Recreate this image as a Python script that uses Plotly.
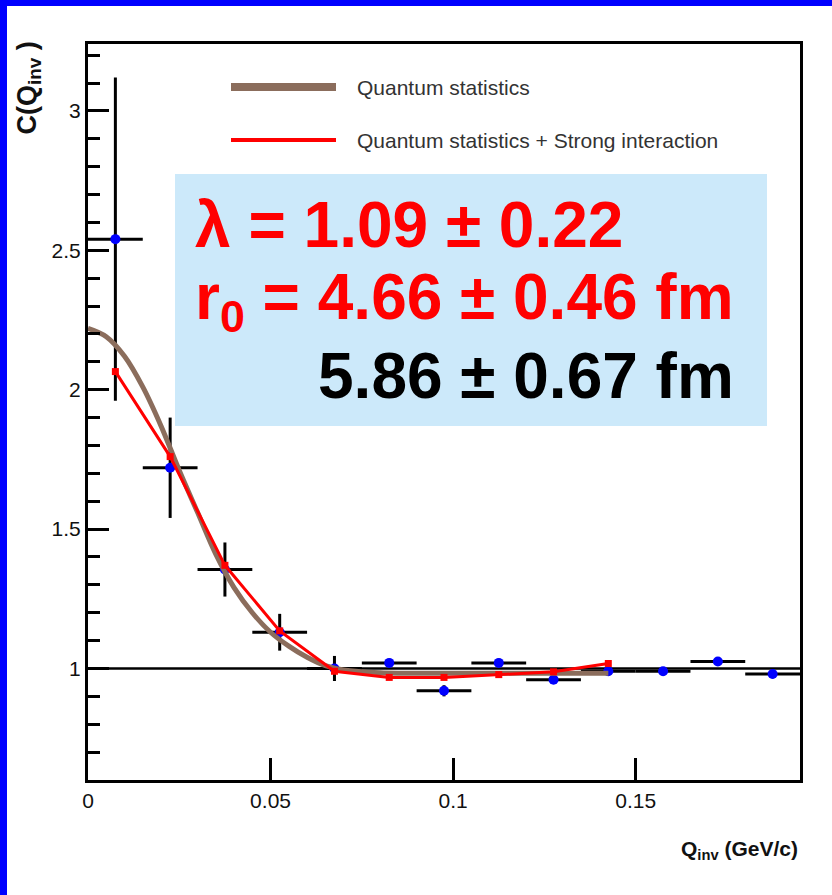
import plotly.graph_objects as go

# ---- data ----
q_bins = [0.0075, 0.0225, 0.0375, 0.0525, 0.0675, 0.0825, 0.0975,
          0.1125, 0.1275, 0.1425, 0.1575, 0.1725, 0.1875]
c_vals = [2.54, 1.72, 1.355, 1.13, 1.0, 1.02, 0.92, 1.02, 0.96, 0.99, 0.99, 1.025, 0.98]
c_errs = [0.58, 0.18, 0.097, 0.066, 0.045, 0.015, 0.02, 0.015, 0.015, 0.015, 0.015, 0.015, 0.015]
q_half = [0.0075] * 13

qs_x = [0.0, 0.005, 0.01, 0.015, 0.02, 0.025, 0.03, 0.035, 0.04, 0.045, 0.05,
        0.055, 0.06, 0.065, 0.07, 0.08, 0.10, 0.12, 0.1425]
qs_y = [2.22, 2.19, 2.12, 2.01, 1.87, 1.71, 1.56, 1.41, 1.29, 1.20, 1.13,
        1.08, 1.04, 1.01, 0.995, 0.985, 0.983, 0.983, 0.983]

si_x = [0.0075, 0.0225, 0.0375, 0.0525, 0.0675, 0.0825, 0.0975, 0.1125, 0.1275, 0.1425]
si_y = [2.065, 1.76, 1.37, 1.135, 0.99, 0.968, 0.968, 0.978, 0.988, 1.018]

ref_x = [0.0, 0.195]
ref_y = [1.0, 1.0]

legend_labels = ["Quantum statistics", "Quantum statistics + Strong interaction"]
x_ticks = [0, 0.05, 0.1, 0.15]
y_ticks = [1, 1.5, 2, 2.5, 3]

SANS = "Liberation Sans, Arial, sans-serif"
BROWN = "#8b6d5c"

W, H = 832, 895
L, R, T, B = 88, 800, 44, 780


def px(x):
    return (x - L) / (R - L)


def py(y):
    return (B - y) / (B - T)


fig = go.Figure()

fig.add_trace(go.Scatter(x=ref_x, y=ref_y, mode="lines",
                         line=dict(color="black", width=2.5), showlegend=False,
                         hoverinfo="skip"))

fig.add_trace(go.Scatter(
    x=q_bins, y=c_vals, mode="markers",
    marker=dict(color="#0000ff", size=10),
    error_x=dict(type="data", array=q_half, color="black", thickness=3, width=0),
    error_y=dict(type="data", array=c_errs, color="black", thickness=3, width=0),
    showlegend=False))

fig.add_trace(go.Scatter(x=qs_x, y=qs_y, mode="lines", line_shape="spline",
                         line=dict(color=BROWN, width=5), name=legend_labels[0],
                         showlegend=False))

fig.add_trace(go.Scatter(x=si_x, y=si_y, mode="lines+markers",
                         line=dict(color="#ff0000", width=3),
                         marker=dict(symbol="square", size=7, color="#ff0000"),
                         name=legend_labels[1], showlegend=False))

shapes = [
    # blue frame (top and left)
    dict(type="rect", xref="paper", yref="paper", x0=px(0), x1=px(7), y0=py(H), y1=py(0),
         fillcolor="#0000ff", line=dict(width=0)),
    dict(type="rect", xref="paper", yref="paper", x0=px(0), x1=px(W), y0=py(6), y1=py(0),
         fillcolor="#0000ff", line=dict(width=0)),
    # parameter box
    dict(type="rect", xref="paper", yref="paper", x0=px(175), x1=px(767), y0=py(426), y1=py(174),
         fillcolor="#cce9fa", line=dict(width=0), layer="above"),
    # legend samples
    dict(type="line", xref="paper", yref="paper", x0=px(231), x1=px(336), y0=py(87), y1=py(87),
         line=dict(color=BROWN, width=8)),
    dict(type="line", xref="paper", yref="paper", x0=px(231), x1=px(336), y0=py(140), y1=py(140),
         line=dict(color="#ff0000", width=4)),
]

annotations = [
    dict(text=legend_labels[0], x=px(355), y=py(87), xref="paper", yref="paper",
         xanchor="left", yanchor="middle", showarrow=False,
         font=dict(family=SANS, size=21, color="#333333")),
    dict(text=legend_labels[1], x=px(355), y=py(140), xref="paper", yref="paper",
         xanchor="left", yanchor="middle", showarrow=False,
         font=dict(family=SANS, size=21, color="#333333")),
    dict(text="<b>λ = 1.09 ± 0.22</b>", x=px(193), y=py(225), xref="paper", yref="paper",
         xanchor="left", yanchor="middle", showarrow=False,
         font=dict(family=SANS, size=64, color="#ff0000")),
    dict(text="<b>r<sub>0</sub> = 4.66 ± 0.46 fm</b>", x=px(193), y=py(301), xref="paper", yref="paper",
         xanchor="left", yanchor="middle", showarrow=False,
         font=dict(family=SANS, size=64, color="#ff0000")),
    dict(text="<b>5.86 ± 0.67 fm</b>", x=px(316), y=py(376), xref="paper", yref="paper",
         xanchor="left", yanchor="middle", showarrow=False,
         font=dict(family=SANS, size=64, color="#000000")),
    dict(text="<b>C(Q<sub>inv</sub> )</b>", x=px(28), y=py(40), xref="paper", yref="paper",
         xanchor="center", yanchor="top", textangle=-90, showarrow=False,
         font=dict(family=SANS, size=27, color="#111111")),
    dict(text="<b>Q<sub>inv</sub> (GeV/c)</b>", x=px(800), y=py(850), xref="paper", yref="paper",
         xanchor="right", yanchor="middle", showarrow=False,
         font=dict(family=SANS, size=21, color="#111111")),
]

fig.update_layout(
    width=W, height=H,
    margin=dict(l=L, r=W - R, t=T, b=H - B, pad=0),
    paper_bgcolor="white", plot_bgcolor="white",
    shapes=shapes, annotations=annotations, showlegend=False,
    xaxis=dict(range=[0, 0.195], tickvals=x_ticks, ticktext=["0", "0.05", "0.1", "0.15"],
               ticks="inside", ticklen=22, tickwidth=2.5, tickcolor="black",
               showline=True, linewidth=3, linecolor="black", mirror=True,
               showgrid=False, zeroline=False,
               tickfont=dict(family=SANS, size=21, color="#111111")),
    yaxis=dict(range=[0.6, 3.24], tickvals=y_ticks, ticktext=["1", "1.5", "2", "2.5", "3"],
               ticks="inside", ticklen=21, tickwidth=3, tickcolor="black",
               minor=dict(dtick=0.1, tick0=0, ticks="inside", ticklen=12, tickwidth=3,
                          tickcolor="black", showgrid=False),
               showline=True, linewidth=3, linecolor="black", mirror=True,
               showgrid=False, zeroline=False,
               tickfont=dict(family=SANS, size=21, color="#111111")),
)

fig.write_html("out.html")
